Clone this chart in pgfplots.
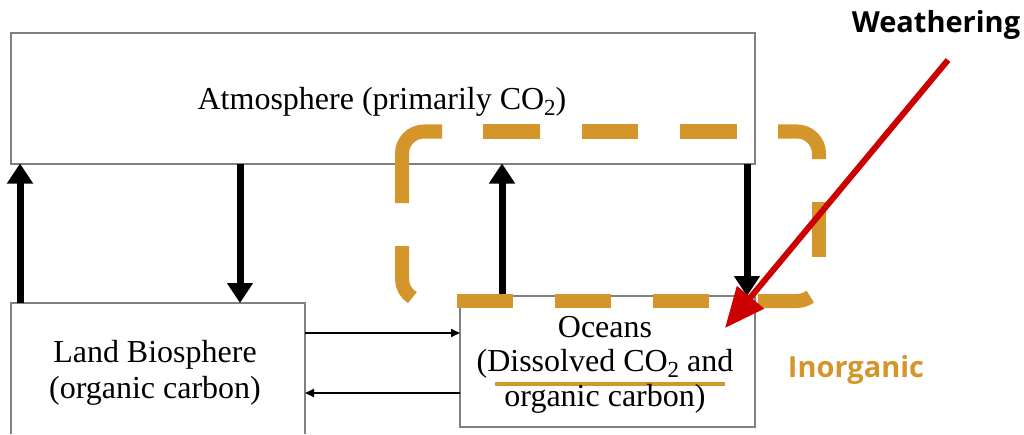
\documentclass[border=0pt]{standalone}
\usepackage{pgfplots}
\pgfplotsset{compat=1.18}
\usetikzlibrary{arrows.meta}
\usepackage{fontspec}
\setmainfont{Liberation Serif}
\newfontfamily\labelfont{Open Sans}
\definecolor{gold}{RGB}{212,150,42}
\definecolor{boxgray}{RGB}{128,128,128}
\definecolor{arrred}{RGB}{204,0,0}
\newcommand{\sub}[1]{\raisebox{-0.18em}{\fontsize{23}{23}\selectfont #1}}
\begin{document}
\begin{tikzpicture}[every node/.style={inner sep=0pt}]
\begin{axis}[x=1pt, y=1pt, xmin=0, xmax=1024, ymin=0, ymax=434,
  hide axis, clip=false]
\path (axis cs:0,0) rectangle (axis cs:1024,434);
% boxes
\draw[boxgray, line width=1.5pt] (axis cs:11,270) rectangle (axis cs:755,401);
\draw[boxgray, line width=1.5pt] (axis cs:11,0) -- (axis cs:11,131) -- (axis cs:305,131) -- (axis cs:305,0);
\draw[boxgray, line width=1.5pt, fill=white] (axis cs:460,7) rectangle (axis cs:755,138);
% thick arrows
\draw[line width=7pt, -{Triangle[length=20pt,width=25pt]}] (axis cs:20,131) -- (axis cs:20,270.5);
\draw[line width=7pt, -{Triangle[length=20pt,width=25pt]}] (axis cs:240,270) -- (axis cs:240,131);
\draw[line width=7pt, -{Triangle[length=20pt,width=25pt]}] (axis cs:502,138) -- (axis cs:502,270.5);
\draw[line width=7pt, -{Triangle[length=20pt,width=25pt]}] (axis cs:747,270) -- (axis cs:747,138);
% thin arrows
\draw[line width=1.8pt, -{Triangle[length=9pt,width=8pt]}] (axis cs:305,101) -- (axis cs:460,101);
\draw[line width=1.8pt, -{Triangle[length=9pt,width=8pt]}] (axis cs:460,41) -- (axis cs:305,41);
% dashed rounded rectangle (gold)
\begin{scope}[gold, line width=14pt]
\draw (axis cs:442,302.5) -- (axis cs:424,302.5) arc[start angle=90,end angle=180,radius=22pt] -- (axis cs:402,231);
\draw (axis cs:483,302.5) -- (axis cs:540,302.5);
\draw (axis cs:582,302.5) -- (axis cs:638,302.5);
\draw (axis cs:680,302.5) -- (axis cs:737,302.5);
\draw (axis cs:778,302.5) -- (axis cs:797,302.5) arc[start angle=90,end angle=0,radius=22pt] -- (axis cs:819,275);
\draw (axis cs:819,232) -- (axis cs:819,177);
\draw (axis cs:758,133) -- (axis cs:797,133) arc[start angle=270,end angle=307,radius=22pt];
\draw (axis cs:457,133) -- (axis cs:513,133);
\draw (axis cs:555,133) -- (axis cs:611,133);
\draw (axis cs:653,133) -- (axis cs:709,133);
\draw (axis cs:402,188) -- (axis cs:402,155) arc[start angle=180,end angle=238,radius=22pt];
\end{scope}
% underline
\draw[gold, line width=4.5pt] (axis cs:495,50) -- (axis cs:725,50);
% red arrow
\draw[arrred, line width=6pt, -{Triangle[length=40pt,width=34pt]}] (axis cs:948,374) -- (axis cs:725,106);
% texts
\node[anchor=base, font=\fontsize{32}{38}\selectfont] at (axis cs:382,324) {Atmosphere (primarily CO\sub{2})};
\node[anchor=base, align=center, font=\fontsize{32}{34.5}\selectfont] at (axis cs:605,28) {Oceans\\(Dissolved CO\sub{2} and\\organic carbon)};
\node[anchor=base, align=center, font=\fontsize{32}{36}\selectfont] at (axis cs:155,36) {Land Biosphere\\(organic carbon)};
\node[anchor=base, font=\labelfont\bfseries\fontsize{29}{34}\selectfont] at (axis cs:936,401) {Weathering};
\node[anchor=base, text=gold, font=\labelfont\bfseries\fontsize{29}{34}\selectfont] at (axis cs:856,57) {Inorganic};
\end{axis}
\end{tikzpicture}
\end{document}
